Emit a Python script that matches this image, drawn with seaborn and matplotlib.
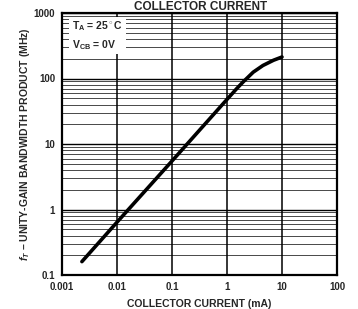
import matplotlib
matplotlib.use("Agg")
import matplotlib.pyplot as plt
import seaborn as sns
import pandas as pd
import numpy as np
from matplotlib.ticker import LogLocator, NullFormatter, FixedLocator

# data
current_ma = [0.0023, 0.01, 0.1, 1.0, 1.5, 2.0, 3.0, 4.5, 7.0, 10.0]
ft_mhz = [0.16, 0.64, 5.5, 48, 70, 90, 125, 158, 190, 213]
x_ticks = [0.001, 0.01, 0.1, 1, 10, 100]
x_tick_labels = ['0.001', '0.01', '0.1', '1', '10', '100']
y_ticks = [0.1, 1, 10, 100, 1000]
y_tick_labels = ['0.1', '1', '10', '100', '1000']

df = pd.DataFrame({'Ic': current_ma, 'fT': ft_mhz})

sns.set_style("white")
plt.rcParams['font.family'] = ['Liberation Sans', 'DejaVu Sans']
plt.rcParams['font.weight'] = 'bold'
plt.rcParams['mathtext.fontset'] = 'custom'
plt.rcParams['mathtext.rm'] = 'Liberation Sans:bold'
plt.rcParams['mathtext.it'] = 'Liberation Sans:bold:italic'
plt.rcParams['mathtext.bf'] = 'Liberation Sans:bold'

fig = plt.figure(figsize=(3.58, 3.09), dpi=100)
ax = fig.add_axes([62 / 358, 1 - 275 / 309, (337 - 62) / 358, (275 - 13) / 309])

ax.set_xscale('log')
ax.set_yscale('log')
ax.set_xlim(0.001, 100)
ax.set_ylim(0.1, 1000)

# grid: vertical lines at decades, horizontal at every minor step
ax.xaxis.set_major_locator(FixedLocator(x_ticks))
ax.xaxis.set_minor_locator(FixedLocator([]))
ax.yaxis.set_major_locator(FixedLocator(y_ticks))
ax.yaxis.set_minor_locator(LogLocator(base=10, subs=np.arange(2, 10)))
ax.yaxis.set_minor_formatter(NullFormatter())
ax.grid(True, which='major', axis='x', color='black', linewidth=1.1)
ax.grid(True, which='major', axis='y', color='black', linewidth=1.0)
ax.grid(True, which='minor', axis='y', color='black', linewidth=0.5)
ax.set_axisbelow(True)

sns.lineplot(data=df, x='Ic', y='fT', ax=ax, color='black', linewidth=2.6, zorder=3)

ax.set_xticks(x_ticks)
ax.set_xticklabels(x_tick_labels)
ax.set_yticks(y_ticks)
ax.set_yticklabels(y_tick_labels)
ax.tick_params(axis='both', which='both', length=0, labelsize=7, pad=5)
for lbl in ax.get_xticklabels() + ax.get_yticklabels():
    lbl.set_fontweight('bold')

for s in ax.spines.values():
    s.set_color('black')
    s.set_linewidth(1.6)

ax.set_xlabel('COLLECTOR CURRENT (mA)', fontsize=7.5, fontweight='bold', labelpad=5)
ax.set_ylabel(r'$f_T$ – UNITY-GAIN BANDWIDTH PRODUCT (MHz)', fontsize=7.5,
              fontweight='bold', labelpad=1)

ax.text(0.035, 0.975, '$\\mathrm{T_A}$ = 25$^\\circ$C\n$\\mathrm{V_{CB}}$ = 0V',
        transform=ax.transAxes, ha='left', va='top', fontsize=7.5, fontweight='bold',
        linespacing=1.45, zorder=4,
        bbox=dict(facecolor='white', edgecolor='none', pad=2))

# title from the datasheet page (cropped in the reference), kept inside the top strip
fig.text(201 / 358, 1 - 10 / 309, 'COLLECTOR CURRENT', ha='center', va='baseline',
         fontsize=8.5, fontweight='bold')

fig.savefig('out.png', dpi=100, facecolor='white')
